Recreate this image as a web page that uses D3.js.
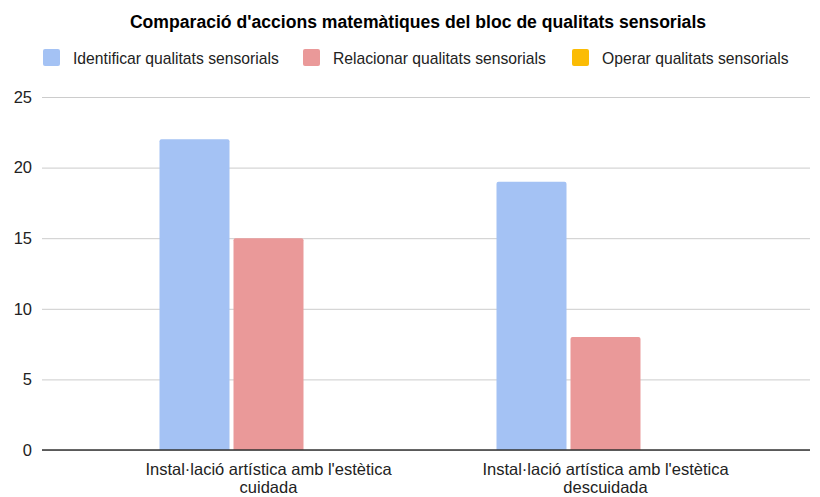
<!DOCTYPE html>
<html><head><meta charset="utf-8">
<script src="https://cdn.jsdelivr.net/npm/d3@7"></script>
<style>body{margin:0;background:#fff}svg{display:block;font-family:Arial,"Liberation Sans",sans-serif}</style>
</head><body><svg id="c" width="820" height="497"></svg>
<script>
const categories = ["Instal·lació artística amb l'estètica|cuidada", "Instal·lació artística amb l'estètica|descuidada"];
const seriesNames = ["Identificar qualitats sensorials", "Relacionar qualitats sensorials", "Operar qualitats sensorials"];
const identificar = [22, 19];
const relacionar = [15, 8];
const operar = [0, 0];
const yTicks = [0, 5, 10, 15, 20, 25];
const colors = ["#a4c2f4", "#ea9999", "#fbbc04"];
const seriesValues = [identificar, relacionar, operar];

(function(){
const svg = d3.select("#c");
const pLeft = 42, pRight = 810, pTop = 97, pBottom = 450;
const y = d3.scaleLinear().domain([0, 25]).range([pBottom, pTop]);
const x0 = d3.scaleBand().domain(categories).range([100, 774]);
const x1 = d3.scaleBand().domain(seriesNames).range([0, 218]).paddingInner(0.054);

// title
svg.append("text").attr("x", 418).attr("y", 28).attr("text-anchor", "middle")
  .attr("font-size", 17.6).attr("font-weight", "bold").attr("fill", "#000")
  .text("Comparació d'accions matemàtiques del bloc de qualitats sensorials");

// legend
const legX = [43, 303, 572];
seriesNames.forEach((s, i) => {
  svg.append("rect").attr("x", legX[i]).attr("y", 49).attr("width", 17).attr("height", 17).attr("rx", 2).attr("fill", colors[i]);
  svg.append("text").attr("x", legX[i] + 30).attr("y", 64).attr("font-size", 15.7).attr("fill", "#222").text(s);
});

// grid
const yAxis = d3.axisLeft(y).tickValues(yTicks).tickSize(-(pRight - pLeft)).tickFormat(d3.format("d"));
const ga = svg.append("g").attr("transform", `translate(${pLeft},0)`).call(yAxis);
ga.select(".domain").remove();
ga.selectAll(".tick line").attr("stroke", "#cccccc");
ga.selectAll(".tick text").attr("x", -10).attr("font-size", 16.5).attr("fill", "#222").attr("font-family", "Arial,'Liberation Sans',sans-serif");

// bars
categories.forEach((c, ci) => {
  const gx = x0(c) + x0.bandwidth() / 2 - 109;
  seriesNames.forEach((s, si) => {
    const v = seriesValues[si][ci];
    if (v <= 0) return;
    const bx = gx + x1(s), bw = x1.bandwidth(), by = y(v), r = 2;
    svg.append("path").attr("fill", colors[si])
      .attr("d", `M${bx},${pBottom}V${by + r}Q${bx},${by} ${bx + r},${by}H${bx + bw - r}Q${bx + bw},${by} ${bx + bw},${by + r}V${pBottom}Z`);
  });
});

// baseline
svg.append("line").attr("x1", pLeft).attr("x2", pRight).attr("y1", y(0)).attr("y2", y(0)).attr("stroke", "#333").attr("stroke-width", 1.3);

// category labels
const xAxis = d3.axisBottom(x0).tickSize(0).tickFormat("");
svg.append("g").attr("transform", `translate(0,${pBottom})`).call(xAxis).select(".domain").remove();
categories.forEach(c => {
  const lines = c.split("|");
  const t = svg.append("text").attr("text-anchor", "middle").attr("font-size", 16.5).attr("fill", "#222");
  lines.forEach((l, i) => t.append("tspan").attr("x", x0(c) + x0.bandwidth() / 2).attr("y", 474.5 + i * 18.5).text(l));
});
})();
</script></body></html>
